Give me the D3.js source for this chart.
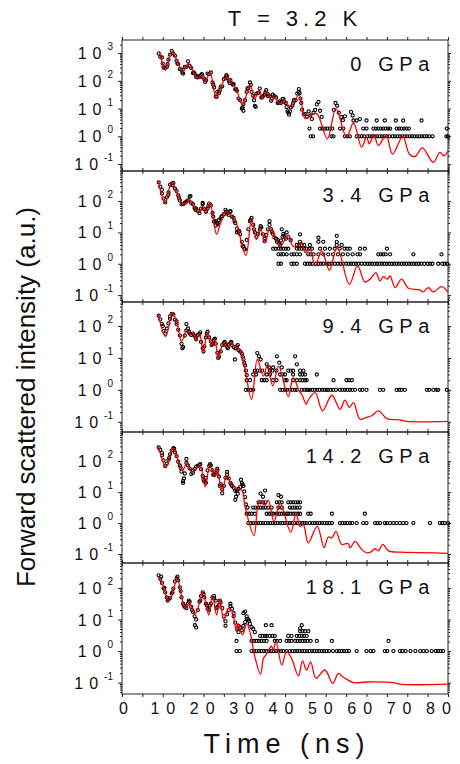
<!DOCTYPE html>
<html>
<head>
<meta charset="utf-8">
<script src="https://cdn.jsdelivr.net/npm/d3@7"></script>
<style>
body { margin: 0; background: #fff; }
text { font-family: "Liberation Sans", Arial, sans-serif; fill: #111; }
</style>
</head>
<body>
<script>

// pressure labels, top to bottom
var pressures = ["0 GPa", "3.4 GPa", "9.4 GPa", "14.2 GPa", "18.1 GPa"];

// all intensities are given as log10(I)
// dense part of each data set: time bins from denseStart, every denseStep ns
var denseStart = 9.0, denseStep = 0.4;

var dense0 = [2.98,2.86,2.84,2.48,2.46,2.5,2.76,2.94,3.08,2.98,
    2.9,2.72,2.6,2.42,2.4,2.26,2.5,2.5,2.7,2.54,
    2.46,2.28,2.26,2.14,2.12,2.14,2.2,2.14,2.06,2.02,
    2.26,2.24,2.3,1.94,1.76,1.44,1.6,1.56,1.78,1.8,
    2.06,2.1,2.16,2.0,2.02,1.9,1.88,1.7,1.64,1.36,
    1.3,1.0,1.16,1.3,1.6,1.74,1.94,1.6,1.46,1.1,
    1.54,1.56,1.72,1.4,1.45,1.5,1.66,1.45,1.44,1.28,
    1.5,1.45,1.4,1.2,1.26,1.2,1.34,1.24,1.2,0.9,
    0.78,1.04,1.1,1.3,1.3,1.54,1.6,1.36,0.96,0.8];
var dense1 = [2.6,2.46,2.24,2.08,1.96,2.12,2.28,2.52,2.56,2.58,
    2.4,2.32,2.18,2.02,1.9,1.9,1.94,1.98,2.02,2.14,
    1.94,1.9,1.78,1.76,1.68,1.62,1.76,1.9,1.74,1.66,
    1.76,1.92,1.86,1.62,1.34,1.22,1.3,1.4,1.44,1.52,
    1.58,1.72,1.6,1.56,1.66,1.5,1.46,1.3,1.12,1.02,
    0.94,0.7,0.56,0.46,0.76,1.1,1.36,1.46,1.24,1.0,
    0.86,0.96,1.1,1.16,0.94,0.8,0.92,1.1,1.24,1.1,
    0.96,0.84,0.8,0.76,0.64,0.74,0.86,0.9,0.8];
var dense2 = [2.32,2.2,2.06,1.84,1.76,1.92,2.08,2.3,2.38,2.36,
    2.2,2.06,1.88,1.7,1.44,1.34,1.7,1.86,1.92,1.76,
    1.72,1.76,1.7,1.58,1.72,1.74,1.5,1.3,1.36,1.64,
    1.82,1.64,1.52,1.44,1.56,1.44,1.16,1.04,1.2,1.4,
    1.46,1.4,1.34,1.42,1.46,1.4,1.34,1.3,1.36,1.24,
    1.2,1.14,0.96,0.76,0.46];
var dense3 = [2.44,2.36,2.18,2.02,1.84,1.92,2.04,2.22,2.34,2.42,
    2.28,2.16,1.98,1.86,1.66,1.36,1.6,1.94,1.86,1.76,
    1.58,1.7,1.74,1.82,1.84,1.88,1.74,1.52,1.34,1.46,
    1.7,1.84,1.86,1.7,1.56,1.6,1.7,1.5,1.26,1.08,
    1.2,1.46,1.56,1.44,1.3,1.2,1.14,1.04,1.04,1.1,
    1.16,1.3,1.2,0.84];
var dense4 = [2.4,2.28,2.16,1.98,1.86,1.7,1.64,1.68,1.82,1.98,
    2.2,2.3,2.24,2.02,1.7,1.5,1.4,1.36,1.5,1.56,
    1.4,1.24,1.1,1.0,1.3,1.56,1.74,1.86,1.7,1.5,
    1.34,1.3,1.5,1.7,1.74,1.6,1.4,1.46,1.54,1.36,
    1.1,0.94,1.16,1.3,1.42,1.34,1.2,0.9,0.7,0.8,
    0.74,0.66,0.8,0.92,1.1,1.0,0.86,0.76];

// scattered points outside the dense grid: [time ns, log10 I]
var extra0 = [[10.0,2.62],[11.2,2.6],[13.6,2.62],[14.8,2.3],[17.6,2.3],[18.4,2.18],[19.6,2.24],[20.4,1.96],
    [22.4,1.86],[23.2,1.42],[24.0,1.66],[25.6,2.2],[26.4,1.92],[27.2,1.86],[28.0,1.7],[29.6,1.04],[29.8,0.92],
    [30.8,1.72],[31.6,1.85],[32.4,1.3],[32.8,1.06],[34.4,1.4],[35.2,1.58],[35.8,1.52],[36.8,1.36],[38.4,1.22],
    [39.6,1.35],[40.4,1.05],[40.8,0.85],[41.2,0.9],[42.0,1.2],[43.4,1.7],[43.6,1.55],[44.0,1.2],
    [45.0,0.8],[45.4,0.7],[45.8,0.9],[46.2,0.75],[46.6,0.62],[47.0,0.85],[47.4,0.95],[47.8,1.15],[48.2,1.24],
    [48.6,0.92],[49.0,0.7],[52.0,0.95],[52.4,1.2],[52.8,1.1],[53.2,0.85],[53.8,0.7],[54.2,0.58],[54.7,0.72],
    [56.2,0.88],[56.6,0.75],[58.4,0.62]];
var extra1 = [[9.8,2.36],[11.4,2.2],[12.4,2.5],[14.0,2.1],[16.8,2.16],[18.0,1.72],[19.8,1.94],[21.2,1.84],
    [22.4,1.5],[23.0,1.36],[23.6,1.26],[24.4,1.5],[25.6,1.66],[26.6,1.68],[27.6,1.36],[28.2,1.0],[28.8,1.04],
    [29.6,0.56],[30.0,0.48],[31.6,1.4],[32.4,1.1],[34.0,1.2],[35.0,0.72],[36.2,1.36],[36.8,1.02],[38.0,0.7],
    [38.8,0.6],[39.2,1.1],[39.6,0.95],[40.4,1.0],[40.8,0.85],[41.4,0.75],[43.7,0.94],[48.2,0.83],[52.7,0.89]];
var extra2 = [[10.0,2.0],[11.8,2.22],[13.4,2.14],[14.8,1.3],[15.8,2.06],[16.4,1.82],[18.0,1.66],[19.2,1.8],
    [20.0,1.2],[20.8,1.76],[22.0,1.4],[22.8,1.6],[23.6,1.0],[25.2,1.5],[26.0,1.3],[26.8,1.5],[27.7,0.95],
    [28.4,1.4],[29.6,1.05],[30.0,0.84],[30.4,0.6],
    [33.2,1.15],[33.6,1.05],[34.0,0.95],[35.5,0.8],[36.1,0.7],[37.1,0.7],[38.0,1.05],[38.6,0.85],[39.2,0.7],
    [42.5,1.05],[42.9,0.8]];
var extra3 = [[9.8,2.26],[11.6,2.1],[12.8,2.4],[14.4,1.78],[15.0,1.3],[15.2,1.44],[15.8,2.07],[17.4,1.62],
    [19.2,1.9],[20.0,1.4],[20.6,1.3],[21.6,1.9],[22.4,1.56],[23.4,1.76],[24.0,1.2],[24.6,0.96],[25.8,1.65],
    [26.8,1.24],[27.8,0.75],[28.0,0.85],[28.4,0.95],[29.2,1.4],[29.6,1.25],[30.0,1.02],[30.4,0.6],[30.8,0.5],
    [34.0,0.95],[34.6,0.85],[35.1,1.05],[38.4,0.9],[39.0,0.85]];
var extra4 = [[9.6,2.36],[10.4,2.0],[11.2,1.6],[12.4,1.86],[13.6,2.36],[14.4,1.9],[15.2,1.44],[16.4,1.6],
    [17.2,1.3],[17.9,0.82],[18.2,0.75],[19.2,1.6],[20.0,1.8],[20.8,1.45],[21.6,1.44],[22.6,1.66],[23.2,1.36],
    [24.0,1.6],[25.4,0.8],[26.6,1.5],[27.4,1.1],[28.6,0.6],[29.8,1.2],[30.2,1.25],[30.6,1.02],[31.2,0.95],
    [32.2,0.7],[32.6,0.6],[35.3,0.82],[36.7,0.82],[43.7,0.72],[44.1,0.82]];

// low-count tail: [log10 I of the level, times (ns) of the points on it]
var rows0 = [
    [0, [46.3,46.9,51.4,51.9,54.7,55.3,55.9,57.6,58.2,58.8,59.4,60.2,60.8,61.4,62.0,62.6,63.2,63.8,64.4,65.0,
        65.6,66.4,67.0,67.6,68.2,68.8,69.4,70.0,70.6,71.2,71.8,72.4,73.0,73.6,74.2,74.8,75.4,76.2,79.6,80.0]],
    [0.28, [46.0,48.6,49.2,49.8,50.4,51.0,51.6,53.5,54.3,59.2,60.0,61.7,62.3,62.9,63.5,64.1,64.7,65.3,65.8,
        67.4,68.0,68.6,69.2,69.8,70.4,79.7]],
    [0.57, [56.8,57.6,60.0,62.5,64.5,67.2,69.0,73.5]]
];
var rows1 = [
    [0, [38.4,39.0,41.6,42.2,42.9,44.9,45.5,46.1,46.7,47.6,48.2,48.8,49.4,50.2,50.8,51.4,52.2,53.0,53.6,54.2,
        55.0,55.6,56.2,56.8,57.4,58.0,58.8,59.6,60.2,60.8,61.4,62.0,62.6,63.2,63.8,64.4,65.0,65.6,66.2,66.8,
        67.4,68.0,68.6,69.2,69.8,70.4,71.0,71.6,72.2,72.8,73.4,74.2,75.0,75.6,76.2,77.6,78.6,79.2,79.8]],
    [0.3, [38.4,39.0,39.6,40.4,41.6,42.2,42.9,43.7,45.7,46.3,47.0,48.2,49.4,50.6,51.8,53.0,54.2,55.4,56.6,57.8,
        58.4,62.9,63.5,64.1,64.7,65.8,71.5,78.4]],
    [0.48, [37.1,37.7,38.4,39.0,39.6,40.2,40.8,42.9,43.5,44.1,44.7,45.3,46.0,46.6,48.6,49.8,51.0,52.2,53.4,
        54.6,55.3,55.9,58.4,59.6,65.0]],
    [0.6, [42.9,43.5,44.1,44.7,46.1,52.7,53.9]],
    [0.7, [43.7,48.2,49.4,52.7]]
];
var rows2 = [
    [0, [30.4,31.0,31.6,32.2,38.8,39.4,40.0,40.4,41.2,41.8,42.4,42.9,44.1,44.7,45.3,45.7,46.1,46.7,47.3,47.9,
        48.5,49.1,49.7,50.2,50.6,51.2,51.8,52.5,53.5,54.1,54.7,55.3,55.9,56.5,57.2,58.4,59.0,60.0,63.3,64.1,
        67.4,68.0,68.6,69.4,74.8,75.4,76.4,77.2,77.6,79.7]],
    [0.3, [30.6,31.4,34.3,34.9,35.5,37.1,37.9,40.0,40.4,42.0,42.9,43.7,44.3,44.9,45.3,51.9,55.1,55.7,56.4]],
    [0.48, [32.2,32.9,35.5,36.3,38.8,39.4,40.0,42.0,43.7,44.3,44.9,47.8]],
    [0.6, [32.6,33.2,33.8,34.4,36.3,36.9,37.9,40.8,41.4,42.0,43.7,44.5]]
];
var rows3 = [
    [0, [31.0,31.6,32.2,32.8,33.4,34.0,34.6,35.2,35.8,36.4,37.0,37.6,38.2,38.8,39.4,40.0,40.6,41.2,41.8,42.4,
        43.0,43.6,44.2,44.8,45.3,46.1,46.7,47.3,47.9,48.5,49.1,49.7,50.3,50.9,51.5,53.5,54.1,54.7,55.3,55.9,
        56.5,57.6,59.2,60.0,62.1,62.7,63.3,64.5,65.0,65.8,66.6,67.4,68.2,69.0,69.8,71.5,75.6,78.0,78.6,79.2,80.0]],
    [0.3, [30.6,31.2,31.8,32.6,35.5,36.1,36.7,37.1,38.0,38.6,39.2,39.8,40.4,40.8,41.4,42.0,42.6,43.2,43.7,
        45.7,46.3,51.5,59.6]],
    [0.5, [32.2,32.8,33.4,34.0,34.6,35.2,35.9,36.7,38.4,39.2,41.2,41.8,42.4,43.0,43.6]],
    [0.67, [33.5,34.0,34.6,35.2,38.0,38.6,39.2,40.8,41.4,42.0,42.6,43.2,43.7]]
];
var rows4 = [
    [0, [28.1,28.9,31.8,32.4,33.0,33.6,34.2,34.8,35.4,36.0,36.6,37.2,37.8,38.4,39.0,39.6,40.4,41.2,41.8,42.4,
        43.0,43.6,44.2,44.8,45.4,46.0,46.6,47.2,47.8,48.4,49.0,49.6,50.2,50.8,51.8,52.7,53.3,53.9,54.5,55.1,
        55.7,57.6,60.0,61.0,61.7,64.5,65.1,66.6,68.2,68.8,69.6,70.8,72.0,73.2,74.0,74.8,76.0,77.0,77.6,78.2,78.8]],
    [0.32, [28.1,31.8,32.4,33.0,33.6,34.2,34.8,35.5,37.5,38.0,38.8,40.4,41.0,41.6,42.5,43.1,43.7,44.3,44.9,
        45.5,46.3,47.8,51.5,65.4]],
    [0.48, [33.9,34.5,35.1,35.5,36.3,36.9,37.5,40.8,41.6,42.9,43.5,44.1,44.7,45.3]],
    [0.63, [43.7,44.3,44.9,45.7]]
];

// fitted curves: [time ns, log10 I]
var fit0 = [[9.2,3.06],[10.7,2.39],[12.2,3.06],[15,2.33],[16.3,2.64],[17.9,2.2],[18.7,2.09],[19.6,2.21],
    [20.4,1.97],[21.6,2.3],[23.1,1.36],[24,1.67],[25.7,2.15],[26.9,1.91],[28.1,1.67],[29.6,1.12],[31.4,1.85],
    [32.6,1.36],[33.7,1.67],[34.5,1.36],[35.5,1.6],[36.7,1.3],[37.5,1.42],[38.8,1.16],[40,1.3],[41.2,1.06],
    [43.5,1.48],[44.9,0.64],[46.3,0.76],[47.8,0.82],[50.4,-0.09],[52.5,1.0],[55.1,-0.03],[56.8,0.48],
    [58.8,-0.39],[60,-0.03],[60.7,-0.27],[61.8,0.07],[62.9,-0.33],[64.8,0.03],[66.4,-0.64],[68.9,0],
    [70.5,-0.64],[71.9,-0.73],[73.7,-0.42],[76.4,-0.94],[78,-0.58],[79,-0.7],[80,-0.52]];
var fit1 = [[8.9,2.64],[10.6,1.95],[12.2,2.6],[13.8,2.16],[15.1,1.89],[15.9,1.95],[16.5,2.05],[17.9,1.79],
    [19,1.63],[19.8,1.84],[20.6,1.63],[21.6,1.92],[23.2,0.94],[24.2,1.31],[25.5,1.66],[26.9,1.52],[28,1.31],
    [30.4,0.27],[31.8,1.44],[33,0.78],[34,1.12],[35.1,0.67],[36.3,1.15],[37.5,0.89],[38.8,0.55],[40.8,0.91],
    [42,0.55],[43.3,0.59],[44.1,0.7],[44.9,0.36],[46.1,0.46],[47.4,-0.07],[49,0.41],[50.9,-0.2],[52.8,0.52],
    [55.8,-0.65],[57.8,-0.07],[59.6,-0.58],[60.9,-0.49],[62.3,-0.28],[63.3,-0.55],[64.1,-0.41],[65.1,-0.49],
    [65.8,-0.39],[67,-0.76],[68.6,-0.49],[70.3,-0.78],[73.1,-0.83],[73.9,-0.9],[75.2,-0.76],[76.4,-0.9],
    [78.4,-0.73],[80,-0.9]];
var fit2 = [[8.9,2.37],[10.7,1.67],[12.4,2.41],[13.6,2.03],[14.6,1.51],[15.9,1.88],[16.9,1.72],[17.5,1.77],
    [18.3,1.57],[19,1.77],[20,1.15],[20.9,1.79],[22,1.41],[22.8,1.57],[23.6,1.0],[24.9,1.46],[25.8,1.34],
    [26.7,1.46],[27.7,1.36],[28.9,1.26],[29.9,0.84],[31.8,-0.3],[33.2,0.95],[34.7,0.43],[35.7,0.79],[37,0.12],
    [38.4,0.74],[40.8,-0.21],[42,0.38],[43.5,-0.04],[44.1,-0.14],[45.2,-0.45],[45.7,-0.32],[47.4,-0.09],
    [49.2,-0.66],[51.5,-0.17],[53.5,-0.61],[54.7,-0.32],[55.8,-0.55],[56.8,-0.4],[58.4,-0.92],[60,-0.86],
    [61.3,-0.81],[62.9,-0.66],[65,-0.9],[68.2,-0.94],[69.9,-0.99],[80,-0.99]];
var fit3 = [[9,2.45],[10.8,1.81],[12.5,2.42],[14.2,1.86],[14.9,1.7],[15.9,1.94],[17.1,1.65],[19,1.86],
    [19.6,1.7],[20.4,1.17],[21.6,1.86],[22.8,1.49],[23.4,1.76],[24.5,1.01],[25.7,1.54],[26.7,1.28],[28.1,1.12],
    [29.4,1.06],[30.2,0.53],[32.4,-0.4],[33.7,0.69],[35.1,0.59],[35.9,0.74],[37.3,0.05],[38.8,0.64],
    [41.4,-0.3],[42.7,0.32],[43.7,-0.11],[44.5,-0.05],[45.7,-0.64],[47.9,-0.11],[49.6,-0.8],[50.6,-0.45],
    [51.5,-0.48],[52.5,-0.27],[53.9,-0.69],[55.5,-0.66],[56,-0.8],[57.2,-0.59],[58.8,-0.85],[60,-0.96],
    [61,-0.94],[62.1,-0.83],[62.9,-0.9],[64,-0.69],[65.4,-0.9],[68.6,-0.94],[76.4,-0.96],[80,-0.98]];
var fit4 = [[9,2.35],[10,2.1],[11.4,1.6],[12.2,1.75],[13.6,2.3],[15,1.5],[15.7,1.35],[16.5,1.56],[17.8,1.17],
    [18.6,1.35],[19.8,1.87],[20.6,1.5],[21.3,1.14],[22.2,1.77],[23.2,1.14],[24,1.61],[25,0.98],[26.1,1.35],
    [26.9,1.29],[28.1,0.61],[28.5,0.87],[29.6,0.51],[30.6,0.87],[31.6,0.51],[32.4,-0.07],[34,-0.73],
    [34.7,-0.23],[35.3,-0.13],[36.2,0.08],[36.7,0.16],[37.1,0.03],[37.8,0.29],[39.2,-0.44],[40.4,-0.02],
    [41.6,-0.23],[43.3,-0.79],[44.3,-0.31],[45.3,-0.6],[46.3,-0.34],[47.6,-0.86],[49.8,-0.6],[51.7,-1.02],
    [53.1,-0.71],[54.3,-0.83],[55.1,-0.89],[56.8,-1.0],[60,-0.98],[66.6,-1.0],[68.2,-1.05],[80,-1.05]];

var xTicks = [0, 10, 20, 30, 40, 50, 60, 70, 80];

var denseAll = [dense0, dense1, dense2, dense3, dense4];
var extraAll = [extra0, extra1, extra2, extra3, extra4];
var rowsAll = [rows0, rows1, rows2, rows3, rows4];
var fitAll = [fit0, fit1, fit2, fit3, fit4];

// layout
var width = 460, height = 764;
var panelTop = [40, 171, 302, 432, 563];
var panelBottom = [171, 302, 432, 563, 694];
var yLo = [-1.25, -1.22, -1.32, -1.29, -1.36];
var yHi = [3.47, 2.96, 2.75, 2.94, 2.79];

var svg = d3.select("body").append("svg")
    .attr("width", width)
    .attr("height", height);

var x = d3.scaleLinear()
    .domain([0, 80])
    .range([122, 448]);

// tick labels of the original sit a little tighter than the ticks
var xLab = d3.scaleLinear()
    .domain([0, 80])
    .range([123.5, 438.5]);

var noDomain = function (sel) { sel.select(".domain").remove(); };

pressures.forEach(function (label, p) {

    var top = panelTop[p], bottom = panelBottom[p];

    var y = d3.scaleLog()
        .domain([Math.pow(10, yLo[p]), Math.pow(10, yHi[p])])
        .range([bottom, top]);

    var g = svg.append("g").attr("class", "panel");

    var majors = [], minors = [];
    for (var n = -2; n <= 3; n++) {
        var m = Math.pow(10, n);
        if (m >= y.domain()[0] && m <= y.domain()[1]) majors.push(m);
        for (var k = 2; k <= 9; k++) {
            if (k * m >= y.domain()[0] && k * m <= y.domain()[1]) minors.push(k * m);
        }
    }

    // ticks on all four sides
    g.append("g").attr("transform", "translate(0," + bottom + ")")
        .call(d3.axisBottom(x).tickValues(d3.range(0, 81, 5)).tickSize(3).tickFormat(""))
        .call(noDomain);
    g.append("g").attr("transform", "translate(0," + top + ")")
        .call(d3.axisTop(x).tickValues(d3.range(0, 81, 5)).tickSize(3).tickFormat(""))
        .call(noDomain);
    g.append("g").attr("transform", "translate(" + x(0) + ",0)")
        .call(d3.axisLeft(y).tickValues(majors).tickSize(4).tickFormat(""))
        .call(noDomain);
    g.append("g").attr("transform", "translate(" + x(0) + ",0)")
        .call(d3.axisLeft(y).tickValues(minors).tickSize(2).tickFormat(""))
        .call(noDomain);
    g.append("g").attr("transform", "translate(" + x(80) + ",0)")
        .call(d3.axisRight(y).tickValues(majors).tickSize(3).tickFormat(""))
        .call(noDomain);
    g.append("g").attr("transform", "translate(" + x(80) + ",0)")
        .call(d3.axisRight(y).tickValues(minors).tickSize(2).tickFormat(""))
        .call(noDomain);
    g.selectAll(".tick line").attr("stroke", "#222");

    g.append("rect")
        .attr("x", x(0))
        .attr("y", top)
        .attr("width", x(80) - x(0))
        .attr("height", bottom - top)
        .style("fill", "none")
        .style("stroke", "#222")
        .style("stroke-width", 1);

    // 10^n labels
    g.selectAll(".ylab")
        .data(majors)
        .enter().append("text")
        .attr("class", "ylab")
        .attr("x", 113)
        .attr("y", function (d) { return y(d) + 6; })
        .attr("text-anchor", "end")
        .each(function (d) {
            var t = d3.select(this);
            t.append("tspan").attr("font-size", 16).attr("letter-spacing", 6).text("10");
            t.append("tspan").attr("font-size", 10).attr("dy", -9)
                .text(String(Math.round(Math.log10(d))));
        });

    // measured points
    var pts = [];
    denseAll[p].forEach(function (v, i) {
        pts.push([+(denseStart + i * denseStep).toFixed(1), v]);
    });
    extraAll[p].forEach(function (d) { pts.push(d); });
    rowsAll[p].forEach(function (r) {
        r[1].forEach(function (t) { pts.push([t, r[0]]); });
    });

    g.append("g").selectAll("circle")
        .data(pts)
        .enter().append("circle")
        .attr("cx", function (d) { return x(d[0]); })
        .attr("cy", function (d) { return y(Math.pow(10, d[1])); })
        .attr("r", 1.6)
        .style("fill", "none")
        .style("stroke", "#000")
        .style("stroke-width", 1.1);

    // fit
    var fitLine = d3.line()
        .x(function (d) { return x(d[0]); })
        .y(function (d) { return y(Math.pow(10, d[1])); })
        .curve(d3.curveCatmullRom.alpha(0.5));

    g.append("path")
        .attr("d", fitLine(fitAll[p]))
        .style("stroke", "#ff0000")
        .style("stroke-width", 1.3)
        .style("fill", "none");

    g.append("text")
        .attr("x", 435)
        .attr("y", top + 31)
        .attr("text-anchor", "end")
        .attr("font-size", 20)
        .attr("letter-spacing", 5.6)
        .text(label);
});

// x tick labels under the last panel
svg.append("g").selectAll("text")
    .data(xTicks)
    .enter().append("text")
    .attr("x", function (d) { return xLab(d) + 3.5; })
    .attr("y", 714)
    .attr("text-anchor", "middle")
    .attr("font-size", 16)
    .attr("letter-spacing", 7)
    .text(function (d) { return d; });

svg.append("text")
    .attr("x", 295)
    .attr("y", 26)
    .attr("text-anchor", "middle")
    .attr("font-size", 22)
    .attr("letter-spacing", 5)
    .text("T = 3.2 K");

svg.append("text")
    .attr("x", 287)
    .attr("y", 753)
    .attr("text-anchor", "middle")
    .attr("font-size", 27)
    .attr("letter-spacing", 6)
    .text("Time (ns)");

svg.append("text")
    .attr("transform", "translate(35,397) rotate(-90)")
    .attr("text-anchor", "middle")
    .attr("font-size", 26)
    .text("Forward scattered intensity (a.u.)");

</script>
</body>
</html>
